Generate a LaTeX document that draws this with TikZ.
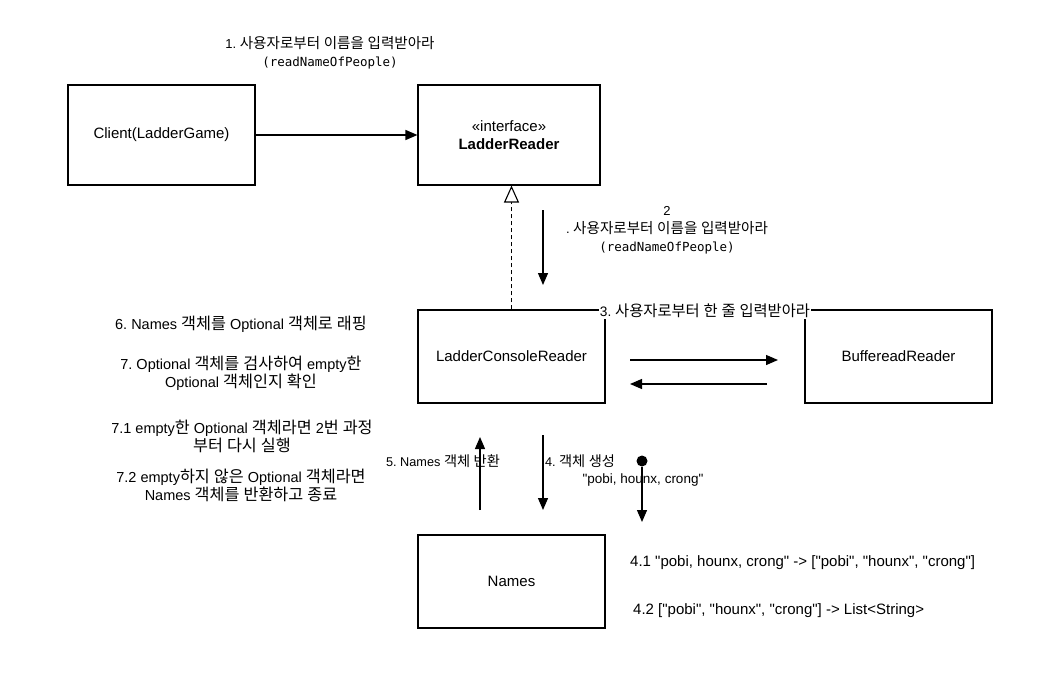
\documentclass[tikz,border=0pt]{standalone}
\usepackage{fontspec}
\usetikzlibrary{arrows.meta}
\setmainfont{Liberation Sans}[Ligatures=TeXOff]
\newfontfamily\krfont[Scale=1.12]{Noto Sans CJK KR}
\newfontfamily\codefont{DejaVu Sans Mono}
\frenchspacing

% Hangul syllables are set in the Korean font
\XeTeXinterchartokenstate=1
\newXeTeXintercharclass\hangulclass
\newcount\hgcount
\hgcount="AC00
\loop
  \XeTeXcharclass\hgcount=\hangulclass
  \advance\hgcount by 1
\ifnum\hgcount<"D7A4 \repeat
\XeTeXinterchartoks 0 \hangulclass = {\begingroup\krfont}
\XeTeXinterchartoks 4095 \hangulclass = {\begingroup\krfont}
\XeTeXinterchartoks \hangulclass 0 = {\endgroup}
\XeTeXinterchartoks \hangulclass 4095 = {\endgroup}

\tikzset{
  lr box/.style={draw=black, line width=1.1pt, minimum width=187pt, minimum height=93pt, align=center, font=\fontsize{15}{18}\selectfont},
  lr flow/.style={draw=black, line width=1.3pt, -{Triangle[length=12pt, width=10pt]}},
  lr realize/.style={draw=black, line width=1.1pt, dash pattern=on 4pt off 3pt, -{Triangle[open, length=17pt, width=15pt, fill=white]}},
  lr note/.style={align=center, inner sep=0pt, font=\fontsize{14.5}{18}\selectfont},
  lr small note/.style={align=center, inner sep=0pt, font=\fontsize{12.7}{16}\selectfont},
  lr call note/.style={align=center, inner sep=0pt, font=\fontsize{12.5}{18}\selectfont},
  lr dot/.style={circle, fill=black, minimum size=11pt, inner sep=0pt},
}

\begin{document}
\begin{tikzpicture}[x=1pt, y=-1pt]
  \useasboundingbox (0,0) rectangle (1045,693);

  % classes
  \node[lr box, minimum height=100pt] (client) at (161.5,135) {Client(LadderGame)};
  \node[lr box, minimum width=182pt, minimum height=100pt] (reader) at (509,135) {«interface»\\\textbf{LadderReader}};
  \node[lr box] (console) at (511.5,356.5) {LadderConsoleReader};
  \node[lr box] (buffered) at (898.5,356.5) {BuffereadReader};
  \node[lr box] (names) at (511.5,581.5) {Names};

  % free ends of the message arrows
  \coordinate (askTop) at (543,210);
  \coordinate (askBot) at (543,285);
  \coordinate (lineOut) at (630,360);
  \coordinate (lineIn) at (778,360);
  \coordinate (backOut) at (767,384);
  \coordinate (backIn) at (630,384);
  \coordinate (retBot) at (480,510);
  \coordinate (retTop) at (480,437);
  \coordinate (newTop) at (543,435);
  \coordinate (newBot) at (543,510);
  \coordinate (splitBot) at (642,522);
  \node[lr dot] (split) at (642,461) {};

  % connectors
  \draw[lr flow] (client) -- (reader);
  \draw[lr realize] (console.north) -- (console.north |- reader.south);
  \draw[lr flow] (askTop) -- (askBot);
  \draw[lr flow] (lineOut) -- (lineIn);
  \draw[lr flow] (backOut) -- (backIn);
  \draw[lr flow] (retBot) -- (retTop);
  \draw[lr flow] (newTop) -- (newBot);
  \draw[lr flow] (split) -- (splitBot);

  % messages
  \node[lr call note, font=\fontsize{13}{18}\selectfont] (msgOne) at (330,53) {1. 사용자로부터 이름을 입력받아라\\{\codefont\fontsize{12.5}{18}\selectfont(readNameOfPeople)}};
  \node[lr call note, font=\fontsize{13}{18}\selectfont] (msgTwo) at (667,230) {2\\. 사용자로부터 이름을 입력받아라\\{\codefont\fontsize{12.5}{18}\selectfont(readNameOfPeople)}};
  \node[lr note, font=\fontsize{13.7}{18}\selectfont, fill=white, inner sep=1pt] (msgThree) at (705,311) {3. 사용자로부터 한 줄 입력받아라};
  \node[lr small note] (msgFour) at (580,461) {4. 객체 생성};
  \node[lr small note, font=\fontsize{13.5}{16}\selectfont] (msgInput) at (643,480) {"pobi, hounx, crong"};
  \node[lr small note] (msgFive) at (443,461) {5. Names 객체 반환};
  \node[lr note, font=\fontsize{15}{18}\selectfont, anchor=west] (msgSplit) at (630,563) {4.1 "pobi, hounx, crong" -> ["pobi", "hounx", "crong"]};
  \node[lr note, font=\fontsize{15}{18}\selectfont, anchor=west] (msgList) at (633,611) {4.2 ["pobi", "hounx", "crong"] -> List<String>};

  % steps on the left
  \node[lr note] (stepSix) at (241,324) {6. Names 객체를 Optional 객체로 래핑};
  \node[lr note] (stepSeven) at (241,373) {7. Optional 객체를 검사하여 empty한\\Optional 객체인지 확인};
  \node[lr note] (stepRetry) at (242,436) {7.1 empty한 Optional 객체라면 2번 과정\\부터 다시 실행};
  \node[lr note] (stepDone) at (241,485) {7.2 empty하지 않은 Optional 객체라면\\Names 객체를 반환하고 종료};
\end{tikzpicture}
\end{document}
